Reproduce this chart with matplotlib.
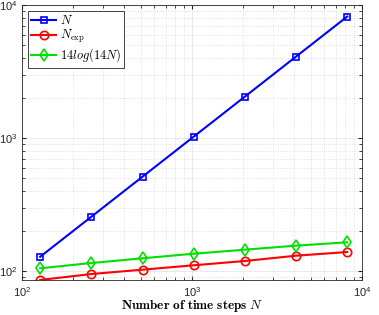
import matplotlib
matplotlib.use('Agg')
import matplotlib.pyplot as plt

plt.rcParams['mathtext.fontset'] = 'cm'
plt.rcParams['font.family'] = ['Liberation Sans', 'DejaVu Sans']

steps = [128, 256, 512, 1024, 2048, 4096, 8192]
n_vals = [128, 256, 512, 1024, 2048, 4096, 8192]
n_exp = [85.6, 94.9, 102.3, 110.4, 118.9, 130.3, 138.9]
log_bound = [104.8, 114.8, 124.6, 134.9, 144.6, 155.1, 164.3]

fig = plt.figure(figsize=(3.79, 3.15), dpi=100)
ax = fig.add_axes([0.058, 0.111, 0.897, 0.873])

ax.loglog(steps, n_vals, '-s', color='blue', lw=1.5, ms=5, mfc='none', mew=1.2, label='$N$')
ax.loglog(steps, n_exp, '-o', color='red', lw=1.5, ms=6, mfc='none', mew=1.2, label=r'$N_{\rm exp}$')
ax.loglog(steps, log_bound, '-d', color='#00e000', lw=1.5, ms=6, mfc='none', mew=1.2, label='$14log(14N)$')

ax.set_xlim(1e2, 1e4)
ax.set_ylim(85.5, 1e4)
ax.grid(True, which='major', color='#e6e6e6', lw=0.6)
ax.grid(True, which='minor', color='#d0d0d0', lw=0.5, ls=':')
ax.set_axisbelow(True)
ax.tick_params(which='both', direction='in', top=True, right=True, labelsize=8, colors='#262626')
ax.tick_params(axis='x', which='major', pad=4)
ax.tick_params(which='major', length=3)
ax.tick_params(which='minor', length=2)
for s in ax.spines.values():
    s.set_color('#262626')
    s.set_linewidth(0.6)

ax.set_xlabel(r'$\mathbf{Number\ of\ time\ steps}\ N$', fontsize=9.5, labelpad=-1)
leg = ax.legend(loc='upper left', bbox_to_anchor=(0.018, 0.978), fontsize=9, fancybox=False,
                edgecolor='#262626', framealpha=1, borderpad=0.25, handlelength=2.0,
                labelspacing=0.1, borderaxespad=0, handletextpad=0.3)
leg.get_frame().set_linewidth(0.6)

fig.savefig('out.png', dpi=100)
